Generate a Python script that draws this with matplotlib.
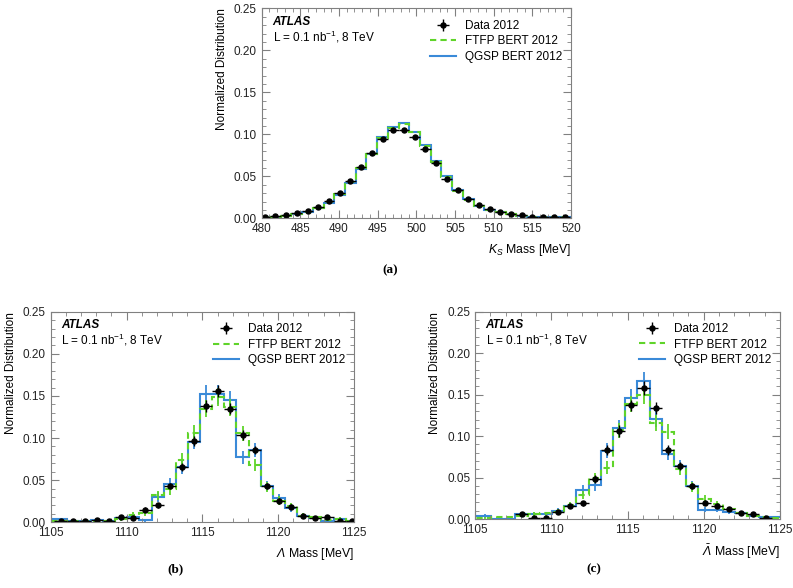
import numpy as np
import matplotlib
matplotlib.use("Agg")
import matplotlib.pyplot as plt
from matplotlib.ticker import MultipleLocator, FormatStrFormatter
from matplotlib.lines import Line2D

plt.rcParams['font.family'] = ['Liberation Sans', 'DejaVu Sans']
plt.rcParams['mathtext.fontset'] = 'custom'
plt.rcParams['mathtext.rm'] = 'Liberation Sans:italic'
plt.rcParams['mathtext.it'] = 'Liberation Sans:italic'
plt.rcParams['mathtext.sf'] = 'Liberation Sans'

nan = np.nan

# ---- K_S panel: 29 bins ----
ks_lo, ks_hi, ks_nbins = 479.7, 519.87, 29
ks_data = [0.002, 0.003, 0.004, 0.0067, 0.009, 0.014, 0.0206, 0.0306, 0.044, 0.0607,
           0.078, 0.0948, 0.1056, 0.1048, 0.0968, 0.0829, 0.0655, 0.0468, 0.0337, 0.0226,
           0.0155, 0.0107, 0.0079, 0.0048, 0.0036, 0.002, 0.0016, 0.0012, 0.001]
ks_data_err = [0.0005, 0.0005, 0.0005, 0.0005, 0.0006, 0.0007, 0.0008, 0.0009, 0.001, 0.001,
               0.0012, 0.0013, 0.0013, 0.0013, 0.0013, 0.0012, 0.001, 0.001, 0.0009, 0.0008,
               0.0007, 0.0006, 0.0005, 0.0005, 0.0005, 0.0004, 0.0004, 0.0004, 0.0004]
ks_ftfp = [0.002, 0.002, 0.003, 0.005, 0.008, 0.012, 0.019, 0.029, 0.043, 0.060,
           0.077, 0.096, 0.108, 0.112, 0.103, 0.086, 0.067, 0.049, 0.033, 0.022,
           0.015, 0.010, 0.007, 0.005, 0.003, 0.002, 0.0015, 0.001, 0.001]
ks_qgsp = [0.002, 0.002, 0.003, 0.005, 0.008, 0.012, 0.018, 0.028, 0.042, 0.059,
           0.077, 0.097, 0.109, 0.113, 0.103, 0.087, 0.068, 0.050, 0.034, 0.023,
           0.015, 0.010, 0.007, 0.005, 0.003, 0.002, 0.0015, 0.001, 0.001]

# ---- Lambda panels: 26 bins of 0.8 MeV ----
lam_lo, lam_hi, lam_nbins = 1104.45, 1125.25, 26
lam_data = [nan, 0.0016, 0.001, 0.001, 0.0032, 0.0015, 0.0063, 0.0055, 0.015, 0.020,
            0.043, 0.066, 0.097, 0.138, 0.156, 0.135, 0.104, 0.086, 0.043, 0.0253,
            0.0185, 0.008, 0.0055, 0.0067, 0.0016, 0.001]
lam_data_err = [0, 0.001, 0.001, 0.001, 0.0015, 0.0015, 0.002, 0.002, 0.003, 0.003,
                0.004, 0.005, 0.006, 0.007, 0.007, 0.007, 0.006, 0.005, 0.004, 0.003,
                0.003, 0.002, 0.002, 0.002, 0.001, 0.001]
lam_ftfp = [0.001, 0.001, 0.0015, 0.0015, 0.002, 0.002, 0.004, 0.009, 0.011, 0.032,
            0.039, 0.074, 0.106, 0.135, 0.149, 0.1365, 0.1056, 0.068, 0.0415, 0.0257,
            0.019, 0.008, 0.006, 0.003, 0.004, 0.001]
lam_ftfp_err = [0.001, 0.001, 0.001, 0.001, 0.0015, 0.0015, 0.002, 0.003, 0.003, 0.005,
                0.006, 0.008, 0.009, 0.010, 0.011, 0.010, 0.009, 0.007, 0.006, 0.005,
                0.004, 0.003, 0.002, 0.002, 0.002, 0.001]
lam_qgsp = [0.0036, 0.0036, 0.0016, 0.0016, 0.0024, 0.001, 0.005, 0.0063, 0.0024, 0.030,
            0.046, 0.0656, 0.0957, 0.152, 0.152, 0.145, 0.077, 0.0858, 0.043, 0.0285,
            0.0166, 0.0075, 0.005, 0.001, 0.004, 0.002]
lam_qgsp_err = [0.002, 0.002, 0.0015, 0.0015, 0.0015, 0.001, 0.003, 0.003, 0.002, 0.006,
                0.007, 0.008, 0.009, 0.011, 0.011, 0.011, 0.008, 0.008, 0.006, 0.005,
                0.004, 0.003, 0.002, 0.001, 0.002, 0.002]

alam_data = [nan, nan, nan, nan, 0.0056, 0.0016, 0.0016, 0.008, 0.0157, 0.019,
             0.048, 0.083, 0.106, 0.137, 0.158, 0.134, 0.083, 0.064, 0.040, 0.0197,
             0.0161, 0.0124, 0.0076, 0.0057, 0.001, nan]
alam_data_err = [0, 0, 0, 0, 0.0015, 0.001, 0.001, 0.002, 0.003, 0.003,
                 0.005, 0.006, 0.007, 0.007, 0.008, 0.007, 0.006, 0.005, 0.004, 0.003,
                 0.003, 0.002, 0.002, 0.002, 0.001, 0]
alam_ftfp = [0.001, 0.001, 0.002, 0.002, 0.004, 0.006, 0.007, 0.009, 0.017, 0.029,
             0.050, 0.062, 0.107, 0.1387, 0.150, 0.116, 0.105, 0.060, 0.039, 0.0237,
             0.0177, 0.0117, 0.007, 0.004, 0.002, 0.001]
alam_ftfp_err = [0.001, 0.001, 0.001, 0.001, 0.0015, 0.002, 0.002, 0.003, 0.004, 0.005,
                 0.006, 0.008, 0.009, 0.010, 0.011, 0.010, 0.009, 0.007, 0.006, 0.005,
                 0.004, 0.003, 0.002, 0.002, 0.001, 0.001]
alam_qgsp = [0.0036, 0.0036, 0.0005, 0.0005, 0.006, 0.006, 0.006, 0.010, 0.0157, 0.035,
             0.041, 0.0824, 0.1094, 0.1456, 0.166, 0.1206, 0.079, 0.064, 0.040, 0.011,
             0.011, 0.009, 0.007, 0.004, 0.002, 0.002]
alam_qgsp_err = [0.002, 0.002, 0.001, 0.001, 0.002, 0.002, 0.002, 0.003, 0.004, 0.006,
                 0.007, 0.009, 0.010, 0.011, 0.011, 0.010, 0.008, 0.007, 0.006, 0.003,
                 0.003, 0.003, 0.002, 0.002, 0.001, 0.001]

GREEN = '#5fd42a'
BLUE = '#3a8ad8'
FRAME = '#808080'


def panel(ax, lo, hi, nbins, data, derr, ftfp, ftfp_err, qgsp, qgsp_err, xlim, xlabel):
    edges = np.linspace(lo, hi, nbins + 1)
    cent = 0.5 * (edges[1:] + edges[:-1])
    half = 0.5 * (edges[1] - edges[0])

    ax.stairs(qgsp, edges, color=BLUE, lw=1.5)
    ax.stairs(ftfp, edges, color=GREEN, lw=1.5, linestyle=(0, (3, 2)))
    if qgsp_err is not None:
        ax.errorbar(cent, qgsp, yerr=qgsp_err, fmt='none', ecolor=BLUE, elinewidth=1.3)
        ax.errorbar(cent, ftfp, yerr=ftfp_err, fmt='none', ecolor=GREEN, elinewidth=1.3)
    ax.errorbar(cent, data, xerr=half, yerr=derr, fmt='o', color='black', ms=3.6,
                elinewidth=1.0, capsize=0)

    ax.set_xlim(*xlim)
    ax.set_ylim(0, 0.25)
    ax.xaxis.set_major_locator(MultipleLocator(5))
    ax.xaxis.set_minor_locator(MultipleLocator(1))
    ax.yaxis.set_major_locator(MultipleLocator(0.05))
    ax.yaxis.set_minor_locator(MultipleLocator(0.01))
    ax.yaxis.set_major_formatter(FormatStrFormatter('%.2f'))
    ax.tick_params(which='both', direction='in', top=True, right=True, colors=FRAME,
                   labelcolor='#222222', labelsize=8.5)
    ax.tick_params(which='major', length=6)
    ax.tick_params(which='minor', length=3)
    for s in ax.spines.values():
        s.set_color(FRAME)
    ax.set_xlabel(xlabel, loc='right', fontsize=8.8, labelpad=5)
    ax.set_ylabel('Normalized Distribution', loc='top', fontsize=8.5, labelpad=4)

    ax.text(0.035, 0.935, 'ATLAS', transform=ax.transAxes, fontsize=8.5,
            fontweight='bold', style='italic', va='center')
    ax.text(0.035, 0.865, 'L = 0.1 nb$^{\\mathsf{-1}}$, 8 TeV', transform=ax.transAxes,
            fontsize=8.5, va='center')

    handles = [
        ax.errorbar([], [], xerr=[], yerr=[], fmt='o', color='black', ms=3.6,
                    elinewidth=1.0, capsize=0),
        Line2D([], [], color=GREEN, lw=1.5, linestyle=(0, (3, 2))),
        Line2D([], [], color=BLUE, lw=1.5),
    ]
    ax.legend(handles, ['Data 2012', 'FTFP BERT 2012', 'QGSP BERT 2012'],
              loc='upper right', frameon=False, fontsize=8.5, handlelength=2.2,
              labelspacing=0.3, borderaxespad=0.3, bbox_to_anchor=(1.0, 0.985))


fig = plt.figure(figsize=(7.93, 5.88), dpi=100)
ax_a = fig.add_axes([0.330, 0.6287, 0.390, 0.3571])
ax_b = fig.add_axes([0.0639, 0.1117, 0.3825, 0.3582])
ax_c = fig.add_axes([0.599, 0.1173, 0.3846, 0.3526])

panel(ax_a, ks_lo, ks_hi, ks_nbins, ks_data, ks_data_err, ks_ftfp, None, ks_qgsp, None,
      (480, 520), '$K_S$ Mass [MeV]')
panel(ax_b, lam_lo, lam_hi, lam_nbins, lam_data, lam_data_err, lam_ftfp, lam_ftfp_err,
      lam_qgsp, lam_qgsp_err, (1105, 1125), '$\\Lambda$ Mass [MeV]')
panel(ax_c, lam_lo, lam_hi, lam_nbins, alam_data, alam_data_err, alam_ftfp, alam_ftfp_err,
      alam_qgsp, alam_qgsp_err, (1105, 1125), '$\\bar{\\Lambda}$ Mass [MeV]')

for x, y, t in [(0.492, 0.541, '(a)'), (0.221, 0.031, '(b)'), (0.749, 0.031, '(c)')]:
    fig.text(x, y, t, family='Liberation Serif', fontweight='bold', fontsize=9.5,
             ha='center', va='center')

fig.savefig('out.png', dpi=100)
